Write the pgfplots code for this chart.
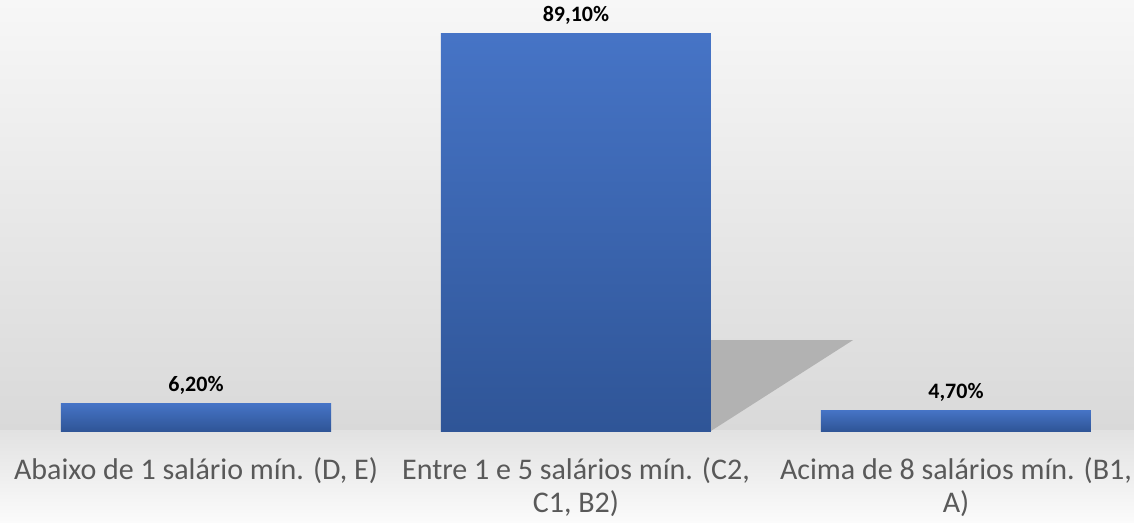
\documentclass[border=0pt]{standalone}
\usepackage{pgfplots}
\pgfplotsset{compat=1.18}
\usepackage{fontspec}
\setmainfont{Carlito}
\definecolor{barTop}{HTML}{4674C6}
\definecolor{barBot}{HTML}{2F5597}
\definecolor{tickgray}{HTML}{595959}
\definecolor{bgTop}{HTML}{F7F7F7}
\definecolor{bgMid}{HTML}{D9D9D9}
\definecolor{bgLow}{HTML}{E2E2E2}
\definecolor{bgBot}{HTML}{FBFBFB}
\definecolor{shadowc}{HTML}{B2B2B2}
\begin{document}
\begin{tikzpicture}
\useasboundingbox (0,0) rectangle (1134pt,522pt);
\shade[top color=bgTop, bottom color=bgMid] (0,91pt) rectangle (1134pt,522pt);
\shade[top color=bgLow, bottom color=bgBot] (0,0) rectangle (1134pt,91.2pt);
\begin{axis}[
  at={(6pt,91pt)}, anchor=south west,
  scale only axis, width=1140pt, height=397pt,
  xmin=-0.5, xmax=2.5, ymin=0, ymax=89.1,
  axis lines=none,
  clip=false,
  xtick=\empty,
  ytick=\empty,
  point meta=explicit symbolic,
  nodes near coords,
  every node near coord/.append style={anchor=base, yshift=12pt, inner sep=0pt,
    font=\fontsize{22}{26}\selectfont\bfseries, text=black},
  barstyle/.style={ybar, bar width=270pt, bar shift=0pt, draw=none, top color=barTop, bottom color=barBot},
]
\fill[shadowc] (axis cs:1.355,20.4) -- (axis cs:1.729,20.4) -- (axis cs:1.355,0) -- cycle;
\addplot[barstyle] coordinates {(0,6.2) [6,20\%]};
\addplot[barstyle] coordinates {(1,89.1) [89,10\%]};
\addplot[barstyle] coordinates {(2,4.7) [4,70\%]};
\foreach \i/\ys/\lab in {0/-48/{Abaixo de 1 salário mín. (D, E)},1/-81/{Entre 1 e 5 salários mín. (C2,\\C1, B2)},2/-81/{Acima de 8 salários mín. (B1,\\A)}} {
  \edef\temp{\noexpand\node[anchor=base, align=center, inner sep=0pt, text=tickgray,
    font=\noexpand\fontsize{30}{33}\noexpand\selectfont] at (axis cs:\i,0) [yshift=\ys pt] {\unexpanded\expandafter{\lab}};}
  \temp
}
\end{axis}
\end{tikzpicture}
\end{document}
